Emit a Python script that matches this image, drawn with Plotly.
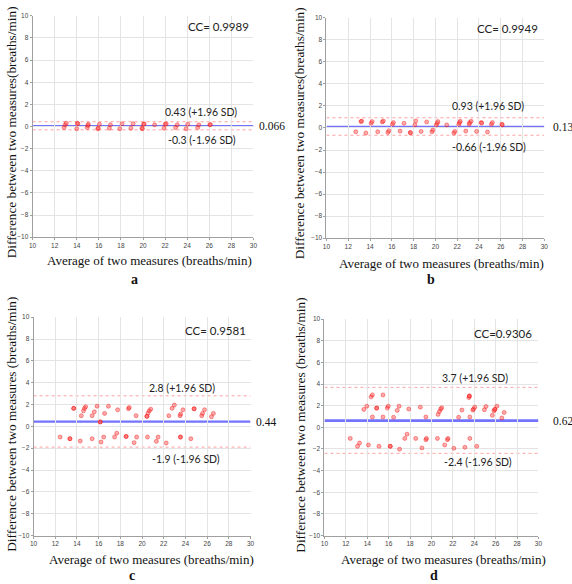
import plotly.graph_objects as go

W, H = 572, 584

# ---------------- data ----------------
a_x = [12.85, 12.95, 13.05, 14.0, 14.05, 14.1, 14.95, 15.0, 15.05, 15.9, 15.95, 16.05,
       16.95, 17.05, 17.9, 18.1, 18.9, 19.1, 19.9, 19.95, 20.05, 20.1, 21.05, 21.9,
       22.0, 22.1, 22.95, 23.1, 23.9, 24.05, 24.95, 25.05, 26.05, 26.1]
a_y = [-0.1, 0.15, 0.3, -0.2, 0.3, 0.25, -0.1, 0.1, 0.2, -0.2, -0.15, 0.2,
       -0.15, 0.15, -0.2, 0.25, -0.15, 0.25, -0.15, -0.2, 0.2, 0.25, 0.15, -0.15,
       0.2, 0.25, -0.1, 0.15, -0.2, 0.2, -0.1, 0.15, 0.15, 0.18]

b_x = [13.17, 13.23, 14.1, 14.19, 15.13, 15.22, 16.06, 16.15, 17.12, 18.12, 18.2, 19.2,
       20.08, 20.17, 20.23, 21.04, 22.15, 22.22, 22.28, 23.1, 23.15, 23.28, 24.21, 24.25,
       25.14, 25.23, 26.1, 26.14,
       12.69, 13.62, 14.71, 15.64, 15.73, 16.76, 17.69, 17.72, 18.69, 19.68, 19.77, 21.7,
       21.79, 22.79, 23.78, 24.78]
b_y = [0.58, 0.63, 0.43, 0.58, 0.55, 0.63, 0.34, 0.49, 0.43, 0.28, 0.64, 0.55,
       0.28, 0.43, 0.58, 0.28, 0.34, 0.49, 0.61, 0.34, 0.49, 0.61, 0.49, 0.45,
       0.34, 0.49, 0.35, 0.28,
       -0.34, -0.46, -0.34, -0.4, -0.25, -0.28, -0.4, -0.45, -0.31, -0.34, -0.19, -0.46,
       -0.31, -0.28, -0.31, -0.37]

c_x = [13.7, 13.7, 14.4, 14.6, 14.7, 14.8, 15.4, 15.6, 15.85, 16.15, 16.15, 16.55, 16.9,
       17.75, 18.75, 18.82, 19.45, 20.45, 20.45, 20.55, 20.67, 20.8, 22.47, 22.77, 22.98,
       23.5, 23.56, 23.77, 24.8, 24.8, 25.5, 25.58, 25.76, 26.4, 26.58,
       12.45, 13.35, 13.35, 14.3, 15.4, 16.22, 16.46, 17.47, 17.67, 18.53, 18.53, 19.27,
       19.5, 20.5, 21.32, 21.48, 22.23, 23.54, 23.54, 24.5]
c_y = [1.65, 1.65, 0.98, 1.43, 1.65, 1.8, 0.98, 1.34, 1.85, 0.41, 0.41, 1.19, 1.85,
       1.52, 1.62, 1.73, 0.98, 0.92, 0.92, 1.22, 1.43, 1.58, 0.98, 1.65, 1.95,
       0.98, 1.13, 1.52, 1.61, 1.61, 0.98, 1.19, 1.52, 0.89, 1.19,
       -0.98, -1.13, -1.13, -1.34, -1.13, -1.43, -0.98, -0.98, -0.62, -0.92, -0.92, -1.49,
       -0.98, -0.98, -1.37, -0.98, -1.52, -0.98, -0.98, -1.13]

d_x = [13.68, 13.96, 14.36, 14.48, 14.48, 14.88, 14.88, 15.47, 15.47, 15.87, 15.96, 16.46,
       16.8, 16.98, 17.88, 18.96, 19.48, 20.62, 20.75, 20.87, 20.96, 22.54, 22.85, 23.5,
       23.55, 23.55, 23.59, 23.87, 23.93, 24.05, 24.95, 25.1, 25.69, 25.84, 25.93, 25.93,
       26.12, 26.58, 26.8,
       12.41, 13.09, 13.28, 14.11, 15.1, 16.15, 16.15, 17.02, 17.51, 17.72, 18.53, 19.11,
       19.48, 19.54, 20.56, 21.24, 21.49, 21.55, 22.1, 23.13, 23.59, 24.24]
d_y = [1.66, 1.96, 2.82, 3.0, 0.96, 1.78, 1.78, 3.0, 0.96, 1.78, 1.96, 0.93,
       1.57, 1.96, 1.69, 1.87, 0.96, 1.2, 1.47, 1.69, 1.81, 0.93, 1.6, 2.75,
       2.9, 2.9, 0.96, 1.6, 1.69, 1.87, 1.63, 1.93, 1.11, 1.53, 1.66, 1.66,
       1.96, 0.87, 1.38,
       -1.02, -1.75, -1.45, -1.63, -1.75, -1.75, -1.75, -2.02, -1.02, -0.63, -1.02, -1.9,
       -1.14, -1.02, -1.02, -1.63, -1.14, -1.02, -1.93, -1.84, -1.02, -1.75]

panel_letters = ["a", "b", "c", "d"]
cc_labels = ["CC= 0.9989", "CC= 0.9949", "CC= 0.9581", "CC=0.9306"]
mean_vals = [0.066, 0.13, 0.44, 0.62]
upper_vals = [0.43, 0.93, 2.8, 3.7]
lower_vals = [-0.3, -0.66, -1.9, -2.4]
mean_labels = ["0.066", "0.13", "0.44", "0.62"]
upper_labels = ["0.43 (+1.96 SD)", "0.93 (+1.96 SD)", "2.8 (+1.96 SD)", "3.7 (+1.96 SD)"]
lower_labels = ["-0.3 (-1.96 SD)", "-0.66 (-1.96 SD)", "-1.9 (-1.96 SD)", "-2.4 (-1.96 SD)"]
x_ticks = [10, 12, 14, 16, 18, 20, 22, 24, 26, 28, 30]
y_ticks = [-10, -8, -6, -4, -2, 0, 2, 4, 6, 8, 10]
x_title = "Average of two measures (breaths/min)"
y_titles = ["Difference between two measures(breaths/min)",
            "Difference between two measures(breaths/min)",
            "Difference between two measures (breaths/min)",
            "Difference between two measures (breaths/min)"]

xs = [a_x, b_x, c_x, d_x]
ys = [a_y, b_y, c_y, d_y]

# ---------------- layout geometry (pixels from top-left) ----------------
boxes = [(29, 253, 12, 236), (327, 548, 14, 237), (30, 250, 317, 538), (325, 542, 319, 538)]
mean_w = [1.4, 1.4, 2.2, 2.6]
mean_lab_left = [257, 555, 254, 555]
upper_pos = [(200, 109), (491, 103), (181, 389), (478, 379)]
lower_pos = [(201, 137.5), (492, 145), (185, 461), (481, 464)]
cc_pos = [(250, 23), (544, 25), (247, 330), (538, 333)]
xtitle_pos = [(148, 260), (444, 263), (150, 562), (446, 562)]
ytitle_pos = [(8, 130), (300, 131), (8, 425), (301, 426)]
letter_pos = [(132, 279), (433, 279), (130, 578), (436, 578)]


def px(x):
    return x / W


def py(y):
    return 1 - y / H


SERIF = "Liberation Serif, Times New Roman, serif"
SANS = "Lato, Open Sans, sans-serif"

fig = go.Figure()
layout = dict(width=W, height=H, margin=dict(l=0, r=0, t=0, b=0),
              paper_bgcolor="white", plot_bgcolor="white", showlegend=False)
annotations = []
shapes = []

for i in range(4):
    l, r, t, b = boxes[i]
    sx = "" if i == 0 else str(i + 1)
    xa, ya = "x" + sx, "y" + sx
    axis_common = dict(showgrid=True, gridcolor="#e4e4e4", gridwidth=1, zeroline=False,
                       showline=True, linecolor="#a0a0a0", linewidth=1, mirror=False,
                       ticks="outside", ticklen=2, tickcolor="#a0a0a0",
                       tickfont=dict(family="Liberation Sans, Arial, sans-serif", size=6.5, color="#444"))
    layout["xaxis" + sx] = dict(axis_common, domain=[px(l), px(r)], range=[10, 30],
                                tickvals=x_ticks, anchor=ya)
    layout["yaxis" + sx] = dict(axis_common, domain=[py(b), py(t)], range=[-10, 10],
                                tickvals=y_ticks, anchor=xa)

    fig.add_trace(go.Scatter(x=xs[i], y=ys[i], mode="markers", xaxis=xa, yaxis=ya,
                             marker=dict(size=4, color="rgba(255,70,70,0.45)",
                                         line=dict(width=0.7, color="rgba(240,0,0,0.55)"))))

    for v in (upper_vals[i], lower_vals[i]):
        shapes.append(dict(type="line", xref=xa, yref=ya, x0=10, x1=30, y0=v, y1=v,
                           line=dict(color="rgba(255,130,130,0.75)", width=1, dash="dot"), layer="below"))
    shapes.append(dict(type="line", xref=xa, yref=ya, x0=10, x1=30, y0=mean_vals[i], y1=mean_vals[i],
                       line=dict(color="rgba(90,90,255,0.85)", width=mean_w[i]), layer="below"))

    annotations.append(dict(xref="paper", yref=ya, x=px(mean_lab_left[i]), y=mean_vals[i],
                            text=mean_labels[i], showarrow=False, xanchor="left",
                            font=dict(family=SERIF, size=11.5, color="#111")))
    annotations.append(dict(xref="paper", yref="paper", x=px(upper_pos[i][0]), y=py(upper_pos[i][1]),
                            text=upper_labels[i], showarrow=False, xanchor="center", yanchor="middle",
                            font=dict(family=SANS, size=10.5, color="#222")))
    annotations.append(dict(xref="paper", yref="paper", x=px(lower_pos[i][0]), y=py(lower_pos[i][1]),
                            text=lower_labels[i], showarrow=False, xanchor="center", yanchor="middle",
                            font=dict(family=SANS, size=10.5, color="#222")))
    annotations.append(dict(xref="paper", yref="paper", x=px(cc_pos[i][0]), y=py(cc_pos[i][1]),
                            text=cc_labels[i], showarrow=False, xanchor="right", yanchor="middle",
                            font=dict(family=SANS, size=11.5, color="#222")))
    annotations.append(dict(xref="paper", yref="paper", x=px(xtitle_pos[i][0]), y=py(xtitle_pos[i][1]),
                            text=x_title, showarrow=False, xanchor="center", yanchor="middle",
                            font=dict(family=SERIF, size=13, color="#111")))
    annotations.append(dict(xref="paper", yref="paper", x=px(ytitle_pos[i][0]), y=py(ytitle_pos[i][1]),
                            text=y_titles[i], showarrow=False, textangle=-90, xanchor="center",
                            yanchor="middle", font=dict(family=SERIF, size=13.3, color="#111")))
    annotations.append(dict(xref="paper", yref="paper", x=px(letter_pos[i][0]), y=py(letter_pos[i][1]),
                            text="<b>" + panel_letters[i] + "</b>", showarrow=False,
                            xanchor="center", yanchor="middle",
                            font=dict(family=SERIF, size=14, color="#111")))

layout["annotations"] = annotations
layout["shapes"] = shapes
fig.update_layout(**layout)
fig.write_html("out.html", config={"displayModeBar": False},
               post_script="document.body.style.margin='0px';document.body.style.overflow='hidden';")
